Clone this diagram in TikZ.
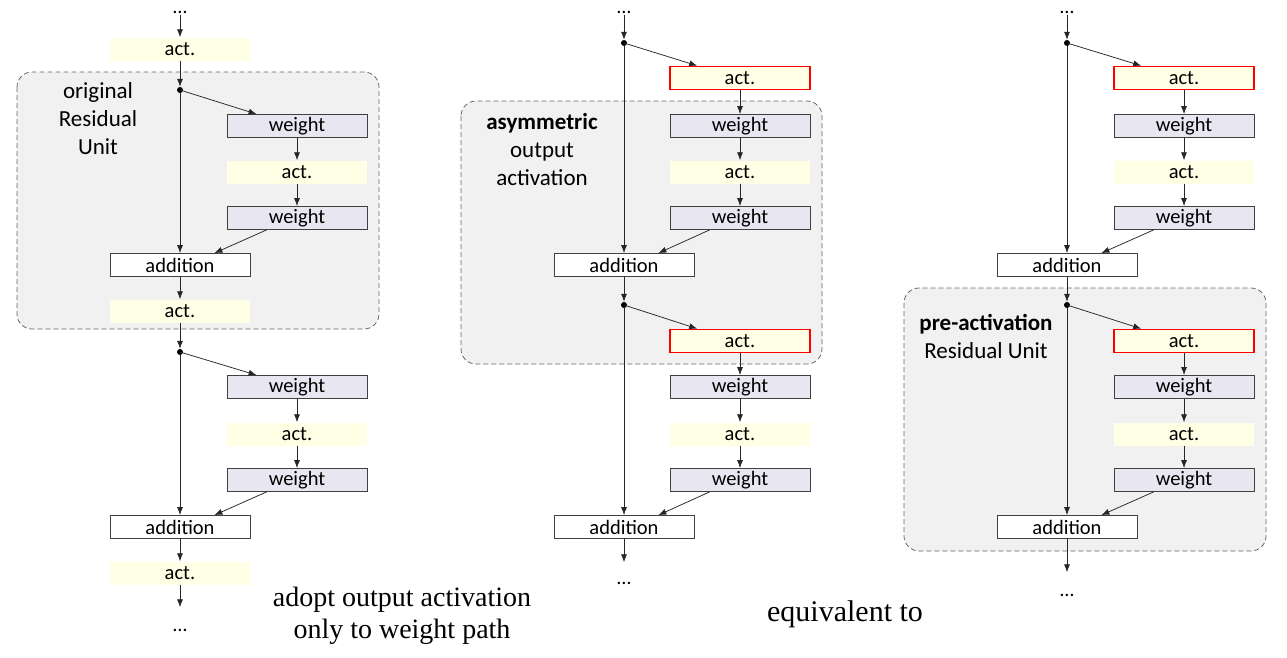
\documentclass[tikz,border=0pt]{standalone}
\usepackage{fontspec}
\setmainfont{Carlito}
\newfontfamily\seriffont{Liberation Serif}
\usetikzlibrary{arrows.meta}
\definecolor{actfill}{RGB}{255,255,230}
\definecolor{wfill}{RGB}{232,230,240}
\definecolor{panelfill}{RGB}{241,241,241}
\definecolor{boxline}{RGB}{64,64,64}
\definecolor{redline}{RGB}{255,0,0}
\tikzset{
 blk/.style={minimum width=140pt, minimum height=23pt, inner sep=0pt, font=\fontsize{20.5}{24}\selectfont},
 actbox/.style={blk, fill=actfill},
 redact/.style={blk, fill=actfill, draw=redline, line width=1.6pt},
 wbox/.style={blk, fill=wfill, draw=boxline, line width=0.8pt},
 addbox/.style={blk, fill=white, draw=boxline, line width=0.8pt},
 panel/.style={draw=boxline!80, dash pattern=on 5pt off 3pt, fill=panelfill, rounded corners=15pt, line width=0.8pt},
 dotnode/.style={circle, fill=black, inner sep=0pt, minimum size=6pt},
 arr/.style={-{Latex[length=8pt,width=6pt]}, line width=0.75pt, draw=black!85},
 lbl/.style={font=\fontsize{23}{28}\selectfont, align=center},
 ell/.style={font=\fontsize{20}{24}\selectfont, inner sep=0pt, text height=3pt, text depth=0pt},
 note/.style={font=\seriffont\fontsize{28}{32}\selectfont, align=center},
}
\begin{document}
\begin{tikzpicture}[x=1pt,y=-1pt]
\useasboundingbox[fill=white] (0,0) rectangle (1287,657);
% panels
\draw[panel] (17,72) rectangle (379,329);
\draw[panel] (461,101) rectangle (822,364);
\draw[panel] (904,288) rectangle (1266,551);
% panel labels
\node[lbl] (Llab) at (98,119) {original\\Residual\\Unit};
\node[lbl] (Mlab) at (542,150) {\textbf{asymmetric}\\output\\activation};
\node[lbl] (Rlab) at (986,336) {\textbf{pre-activation}\\Residual Unit};
% ---------------- left column
\node[ell] (L0) at (180,12) {…};
\node[actbox] (La0) at (180,49) {act.};
\node[dotnode] (Lp1) at (180,90) {};
\node[wbox] (Lw1) at (297,126) {weight};
\node[actbox] (La1) at (297,172) {act.};
\node[wbox] (Lw2) at (297,218) {weight};
\node[addbox] (Ls1) at (180,265) {addition};
\node[actbox] (La2) at (180,311) {act.};
\node[dotnode] (Lp2) at (180,352) {};
\node[wbox] (Lw3) at (297,387) {weight};
\node[actbox] (La3) at (297,434) {act.};
\node[wbox] (Lw4) at (297,480) {weight};
\node[addbox] (Ls2) at (180,527) {addition};
\node[actbox] (La4) at (180,573) {act.};
\node[ell] (L9) at (180,630) {…};
\draw[arr, shorten <=1pt] (L0) -- (La0);
\draw[arr] (La0) -- (Lp1);
\draw[arr] (Lp1.center) -- ([xshift=30pt]Lw1.north west);
\draw[arr] (Lp1) -- (Ls1);
\draw[arr] (Lw1) -- (La1);
\draw[arr] (La1) -- (Lw2);
\draw[arr] ([xshift=40pt]Lw2.south west) -- ([xshift=-36pt]Ls1.north east);
\draw[arr] (Ls1) -- (La2);
\draw[arr] (La2) -- (Lp2);
\draw[arr] (Lp2.center) -- ([xshift=30pt]Lw3.north west);
\draw[arr] (Lp2) -- (Ls2);
\draw[arr] (Lw3) -- (La3);
\draw[arr] (La3) -- (Lw4);
\draw[arr] ([xshift=40pt]Lw4.south west) -- ([xshift=-36pt]Ls2.north east);
\draw[arr] (Ls2) -- (La4);
\draw[arr, shorten >=21pt] (La4) -- (L9);
% ---------------- middle column
\node[ell] (M0) at (624,12) {…};
\node[dotnode] (Mp1) at (624,43) {};
\node[redact] (Ma1) at (740,78) {act.};
\node[wbox] (Mw1) at (740,126) {weight};
\node[actbox] (Ma2) at (740,172) {act.};
\node[wbox] (Mw2) at (740,218) {weight};
\node[addbox] (Ms1) at (624,265) {addition};
\node[dotnode] (Mp2) at (624,305) {};
\node[redact] (Ma3) at (740,341) {act.};
\node[wbox] (Mw3) at (740,387) {weight};
\node[actbox] (Ma4) at (740,434) {act.};
\node[wbox] (Mw4) at (740,480) {weight};
\node[addbox] (Ms2) at (624,527) {addition};
\node[ell] (M9) at (624,583) {…};
\draw[arr, shorten <=1pt] (M0) -- (Mp1);
\draw[arr] (Mp1.center) -- ([xshift=28pt]Ma1.north west);
\draw[arr] (Mp1) -- (Ms1);
\draw[arr] (Ma1) -- (Mw1);
\draw[arr] (Mw1) -- (Ma2);
\draw[arr] (Ma2) -- (Mw2);
\draw[arr] ([xshift=40pt]Mw2.south west) -- ([xshift=-36pt]Ms1.north east);
\draw[arr] (Ms1) -- (Mp2);
\draw[arr] (Mp2.center) -- ([xshift=28pt]Ma3.north west);
\draw[arr] (Mp2) -- (Ms2);
\draw[arr] (Ma3) -- (Mw3);
\draw[arr] (Mw3) -- (Ma4);
\draw[arr] (Ma4) -- (Mw4);
\draw[arr] ([xshift=40pt]Mw4.south west) -- ([xshift=-36pt]Ms2.north east);
\draw[arr, shorten >=19pt] (Ms2) -- (M9);
% ---------------- right column
\node[ell] (R0) at (1067,12) {…};
\node[dotnode] (Rp1) at (1067,43) {};
\node[redact] (Ra1) at (1184,78) {act.};
\node[wbox] (Rw1) at (1184,126) {weight};
\node[actbox] (Ra2) at (1184,172) {act.};
\node[wbox] (Rw2) at (1184,218) {weight};
\node[addbox] (Rs1) at (1067,265) {addition};
\node[dotnode] (Rp2) at (1067,305) {};
\node[redact] (Ra3) at (1184,341) {act.};
\node[wbox] (Rw3) at (1184,387) {weight};
\node[actbox] (Ra4) at (1184,434) {act.};
\node[wbox] (Rw4) at (1184,480) {weight};
\node[addbox] (Rs2) at (1067,527) {addition};
\node[ell] (R9) at (1067,595) {…};
\draw[arr, shorten <=1pt] (R0) -- (Rp1);
\draw[arr] (Rp1.center) -- ([xshift=28pt]Ra1.north west);
\draw[arr] (Rp1) -- (Rs1);
\draw[arr] (Ra1) -- (Rw1);
\draw[arr] (Rw1) -- (Ra2);
\draw[arr] (Ra2) -- (Rw2);
\draw[arr] ([xshift=40pt]Rw2.south west) -- ([xshift=-36pt]Rs1.north east);
\draw[arr] (Rs1) -- (Rp2);
\draw[arr] (Rp2.center) -- ([xshift=28pt]Ra3.north west);
\draw[arr] (Rp2) -- (Rs2);
\draw[arr] (Ra3) -- (Rw3);
\draw[arr] (Rw3) -- (Ra4);
\draw[arr] (Ra4) -- (Rw4);
\draw[arr] ([xshift=40pt]Rw4.south west) -- ([xshift=-36pt]Rs2.north east);
\draw[arr, shorten >=21pt] (Rs2) -- (R9);
% notes
\node[note] (n1) at (402,616) {adopt output activation\\only to weight path};
\node[note, font=\seriffont\fontsize{30}{34}\selectfont] (n2) at (845,614) {equivalent to};
\end{tikzpicture}
\end{document}
